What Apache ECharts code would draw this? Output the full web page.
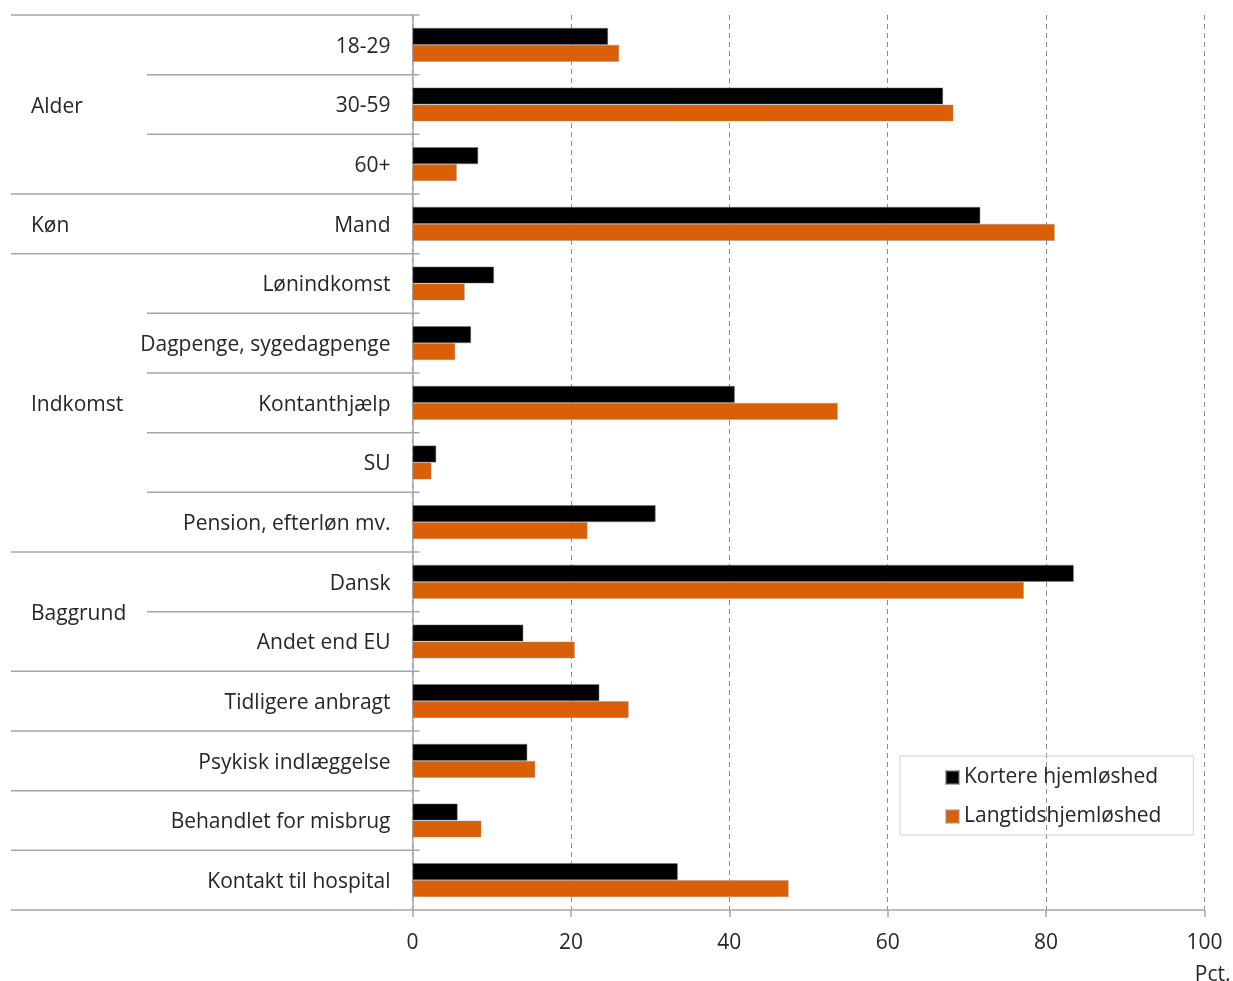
<!DOCTYPE html>
<html>
<head>
<meta charset="utf-8">
<script src="https://cdn.jsdelivr.net/npm/echarts@6/dist/echarts.min.js"></script>
<style>
  html, body { margin: 0; padding: 0; background: #ffffff; }
  #chart { width: 1233px; height: 981px; }
</style>
</head>
<body>
<div id="chart"></div>
<script>
// Row labels, top to bottom
const categories = [
  '18-29', '30-59', '60+',
  'Mand',
  'Lønindkomst', 'Dagpenge, sygedagpenge', 'Kontanthjælp', 'SU', 'Pension, efterløn mv.',
  'Dansk', 'Andet end EU',
  'Tidligere anbragt', 'Psykisk indlæggelse', 'Behandlet for misbrug', 'Kontakt til hospital'
];

// Share (pct.) per row
const kortere = [24.7, 67.0, 8.3, 71.7, 10.3, 7.4, 40.7, 3.0, 30.7, 83.5, 14.0, 23.6, 14.5, 5.7, 33.5];
const langtid = [26.1, 68.3, 5.6, 81.1, 6.6, 5.4, 53.7, 2.4, 22.1, 77.2, 20.5, 27.3, 15.5, 8.7, 47.5];

const seriesNames = ['Kortere hjemløshed', 'Langtidshjemløshed'];

// Row grouping shown in the left column
const groupNames = ['Alder', 'Køn', 'Indkomst', 'Baggrund', '', '', '', ''];
const groupSizes = [3, 1, 5, 2, 1, 1, 1, 1];

const xTicks = [0, 20, 40, 60, 80, 100];

const FONT = '"Open Sans"';
const FS = 21;
const TEXT = '#262626';
const RULE = '#a6a6a6';

const chart = echarts.init(document.getElementById('chart'), null, { renderer: 'canvas' });

const option = {
  animation: false,
  backgroundColor: '#ffffff',
  textStyle: { fontFamily: FONT },
  grid: { left: 412.5, right: 28.5, top: 15, bottom: 71, containLabel: false },
  legend: {
    orient: 'vertical',
    left: 900,
    top: 756,
    data: seriesNames,
    icon: 'rect',
    itemWidth: 13,
    itemHeight: 13,
    itemGap: 18,
    padding: [11, 32, 8, 45],
    borderColor: '#d0d0d0',
    borderWidth: 1,
    textStyle: { fontFamily: FONT, fontSize: FS, color: TEXT, lineHeight: 20 }
  },
  xAxis: {
    type: 'value',
    min: 0,
    max: 100,
    interval: 20,
    axisLine: { show: true, lineStyle: { color: RULE, width: 1.5 } },
    axisTick: { show: true, length: 7, lineStyle: { color: RULE, width: 1.5 } },
    axisLabel: {
      margin: 23,
      fontFamily: FONT, fontSize: FS, color: TEXT,
      formatter: v => xTicks.includes(v) ? String(v) : ''
    },
    splitLine: {
      show: true,
      lineStyle: { color: '#8c8c8c', type: [5, 4], width: 1 }
    }
  },
  yAxis: {
    type: 'category',
    data: categories,
    inverse: true,
    axisLine: { show: true, lineStyle: { color: RULE, width: 1.5 } },
    axisTick: { show: false },
    axisLabel: {
      margin: 22,
      formatter: v => '{c|' + v + '}',
      rich: {
        c: { fontFamily: FONT, fontSize: FS, color: TEXT, lineHeight: 24, padding: [4, 0, 0, 0] }
      }
    }
  },
  series: [
    {
      name: seriesNames[0],
      type: 'bar',
      data: kortere,
      barGap: '0%',
      barCategoryGap: '43%',
      itemStyle: { color: '#000000', borderColor: 'rgba(120,120,120,0.6)', borderWidth: 0.8 }
    },
    {
      name: seriesNames[1],
      type: 'bar',
      data: langtid,
      barGap: '0%',
      barCategoryGap: '43%',
      itemStyle: { color: '#DA5F06', borderColor: 'rgba(150,150,150,0.5)', borderWidth: 0.8 }
    }
  ]
};

chart.setOption(option);

// Left-column rules and group titles, placed from the category axis scale
function drawLeftColumn() {
  const c0 = chart.convertToPixel({ yAxisIndex: 0 }, 0);
  const c1 = chart.convertToPixel({ yAxisIndex: 0 }, 1);
  const band = c1 - c0;
  const axisX = chart.convertToPixel({ xAxisIndex: 0 }, 0);
  const edge = i => c0 + (i - 0.5) * band;

  const groupStarts = new Set();
  let acc = 0;
  groupSizes.forEach(s => { groupStarts.add(acc); acc += s; });
  groupStarts.add(acc);

  const elements = [];
  for (let i = 0; i <= categories.length; i++) {
    const y = edge(i);
    const outer = groupStarts.has(i);
    const xEnd = i === categories.length ? axisX : axisX + 7;
    elements.push({
      type: 'line',
      silent: true,
      shape: { x1: outer ? 11 : 147, y1: y, x2: xEnd, y2: y },
      style: { stroke: RULE, lineWidth: 1.5 }
    });
  }

  let start = 0;
  groupNames.forEach((name, g) => {
    const size = groupSizes[g];
    if (name) {
      const yMid = (edge(start) + edge(start + size)) / 2;
      elements.push({
        type: 'text',
        silent: true,
        x: 31,
        y: yMid + 2.5,
        style: {
          text: name,
          fontFamily: FONT, fontSize: FS, fill: TEXT,
          textAlign: 'left', textVerticalAlign: 'middle'
        }
      });
    }
    start += size;
  });

  // Unit label under the value axis
  const xMax = chart.convertToPixel({ xAxisIndex: 0 }, 100);
  const yBottom = edge(categories.length);
  elements.push({
    type: 'text',
    silent: true,
    x: xMax + 26,
    y: yBottom + 65,
    style: {
      text: 'Pct.',
      fontFamily: FONT, fontSize: FS, fill: TEXT,
      textAlign: 'right', textVerticalAlign: 'middle'
    }
  });

  chart.setOption({ graphic: elements });
}

drawLeftColumn();
</script>
</body>
</html>
